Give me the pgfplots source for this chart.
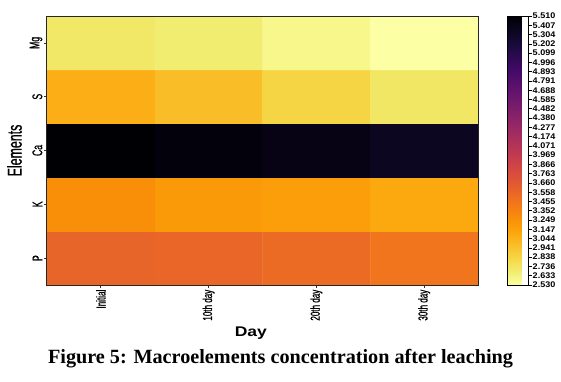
\documentclass[border=0pt]{standalone}
\usepackage{fontspec}
\setmainfont{Liberation Serif}
\newfontfamily\narrowsans{Liberation Sans}[FakeStretch=0.62,FakeBold=0.8]
\newfontfamily\widesans{Liberation Sans}[FakeStretch=1.25]
\newfontfamily\cbsans{Liberation Sans}[FakeStretch=1.1]
\usepackage{pgfplots}
\pgfplotsset{compat=1.18}
\pgfplotsset{colormap={infernorev}{rgb255(0pt)=(252,255,164) rgb255(5pt)=(241,237,113) rgb255(10pt)=(246,215,70) rgb255(20pt)=(252,165,10) rgb255(25pt)=(249,142,9) rgb255(30pt)=(243,120,25) rgb255(40pt)=(221,81,58) rgb255(50pt)=(188,55,84) rgb255(60pt)=(147,38,103) rgb255(70pt)=(106,23,110) rgb255(80pt)=(66,10,104) rgb255(90pt)=(22,11,57) rgb255(100pt)=(0,0,4)}}
\begin{document}
\begin{tikzpicture}
\begin{axis}[name=ax, scale only axis, width=431pt, height=269pt,
 xmin=-0.5, xmax=3.5, ymin=-0.5, ymax=4.5,
 colormap name=infernorev, point meta min=2.53, point meta max=5.51,
 xtick={0,1,2,3}, xticklabels={Initial,10th day,20th day,30th day},
 ytick={0,1,2,3,4}, yticklabels={P,K,Ca,S,Mg},
 xticklabel style={rotate=90, anchor=east, font=\narrowsans\fontsize{13}{13}\selectfont, inner sep=1.5pt},
 yticklabel style={rotate=90, anchor=south, font=\narrowsans\fontsize{14}{14}\selectfont, inner sep=1.5pt},
 tick pos=left, tick align=outside, major tick length=3pt, tick style={black!80, line width=0.8pt},
 axis line style={black!85, line width=1pt},
 xlabel={Day}, ylabel={Elements},
 every axis x label/.style={at={(axis description cs:0.473,0)}, anchor=center, yshift=-48pt, font=\widesans\bfseries\fontsize{14}{14}\selectfont},
 every axis y label/.style={at={(axis description cs:-0.0754,0.5)}, rotate=90, anchor=center, font=\narrowsans\fontsize{20}{20}\selectfont},
 axis on top,
 colorbar,
 colorbar style={at={(parent axis.north east)}, anchor=north west, xshift=21pt, width=21pt, height=269pt, scale only axis,
   ytick={2.530,2.6328,2.7355,2.8383,2.9410,3.0438,3.1466,3.2493,3.3521,3.4548,3.5576,3.6603,3.7631,3.8659,3.9686,4.0714,4.1741,4.2769,4.3797,4.4824,4.5852,4.6879,4.7907,4.8934,4.9962,5.0990,5.2017,5.3045,5.4072,5.510},
   yticklabels={2.530,2.633,2.736,2.838,2.941,3.044,3.147,3.249,3.352,3.455,3.558,3.660,3.763,3.866,3.969,4.071,4.174,4.277,4.380,4.482,4.585,4.688,4.791,4.893,4.996,5.099,5.202,5.304,5.407,5.510},
   yticklabel style={font=\cbsans\bfseries\fontsize{8.2}{8.2}\selectfont, inner sep=1pt},
   ytick pos=right, yticklabel pos=right,
   tick align=outside, major tick length=3pt, tick style={black, line width=0.6pt},
   axis line style={black, line width=0.8pt}},
]
\addplot[matrix plot*, mesh/cols=4, point meta=explicit] table[meta=c] {
x y c
0 0 3.57
1 0 3.56
2 0 3.52
3 0 3.45
0 1 3.27
1 1 3.20
2 1 3.17
3 1 3.10
0 2 5.51
1 2 5.47
2 2 5.42
3 2 5.35
0 3 3.07
1 3 2.98
2 3 2.84
3 3 2.72
0 4 2.71
1 4 2.68
2 4 2.60
3 4 2.53
};
\end{axis}
\node[font=\bfseries\fontsize{20.2}{21}\selectfont] at ([xshift=233.5pt, yshift=-343pt]ax.north west) {Figure 5: Macroelements concentration after leaching};
\pgfresetboundingbox
\path ([xshift=-47pt,yshift=16pt]ax.north west) rectangle ([xshift=514pt,yshift=-365pt]ax.north west);
\end{tikzpicture}
\end{document}
